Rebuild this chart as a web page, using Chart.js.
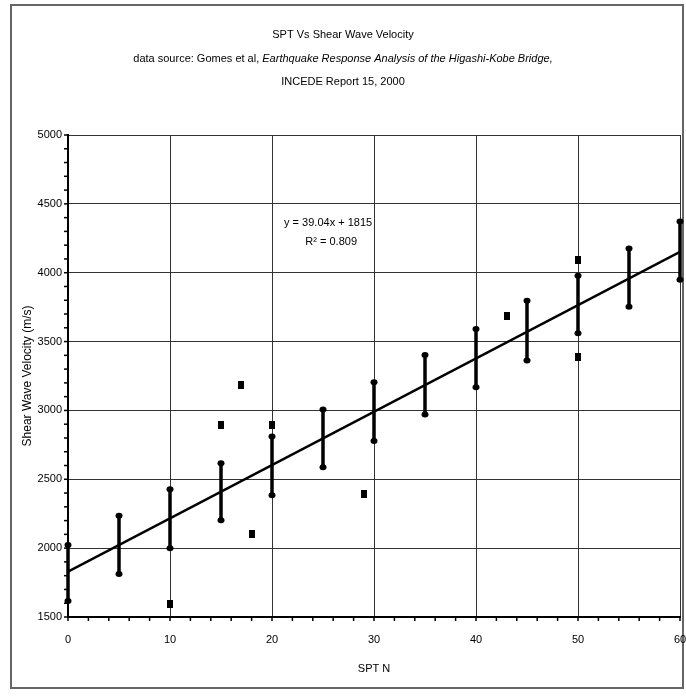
<!DOCTYPE html>
<html><head><meta charset="utf-8">
<script src="https://cdn.jsdelivr.net/npm/chart.js@4/dist/chart.umd.min.js"></script>
<style>html,body{margin:0;padding:0;background:#fff}#wrap{width:686px;height:696px}</style>
</head><body><div id="wrap"><canvas id="c" width="686" height="696"></canvas></div>
<script>
// ---- data ----
const titleLine1 = 'SPT Vs Shear Wave Velocity';
const titleLine2a = 'data source: Gomes et al, ';
const titleLine2b = 'Earthquake Response Analysis of the Higashi-Kobe Bridge,';
const titleLine3 = 'INCEDE Report 15, 2000';
const xAxisTitle = 'SPT N';
const yAxisTitle = 'Shear Wave Velocity (m/s)';
const equationLines = ['y = 39.04x + 1815', 'R\u00B2 = 0.809'];

const barX    = [0, 5, 10, 15, 20, 25, 30, 35, 40, 45, 50, 55, 60];
const barLow  = [1616, 1812, 2000, 2203, 2384, 2587, 2778, 2971, 3169, 3362, 3560, 3753, 3949];
const barHigh = [2022, 2235, 2428, 2616, 2811, 3007, 3205, 3403, 3592, 3797, 3978, 4176, 4372];

const pointX = [10, 15, 17, 18, 20, 29, 43, 50, 50];
const pointY = [1594, 2891, 3188, 2100, 2891, 2391, 3688, 4092, 3391];

const trendX = [0, 60];
const trendY = [1830, 4152];

const xTickValues = [0, 10, 20, 30, 40, 50, 60];
const yTickValues = [1500, 2000, 2500, 3000, 3500, 4000, 4500, 5000];

// ---- chart ----
const FONT = "'Liberation Sans Narrow', 'Arial Narrow', 'Liberation Sans', Arial, sans-serif";

const sq = document.createElement('canvas');
sq.width = 6; sq.height = 8;
(function(){ const g = sq.getContext('2d'); g.fillStyle = '#000'; g.fillRect(0,0,6,8); })();

const decor = {
  id: 'decor',
  beforeDraw(chart) {
    const ctx = chart.ctx;
    ctx.save();
    ctx.fillStyle = '#fff';
    ctx.fillRect(0, 0, chart.width, chart.height);
    ctx.strokeStyle = '#666';
    ctx.lineWidth = 2;
    ctx.strokeRect(11, 5, 672, 683);
    ctx.restore();
  },
  afterDatasetsDraw(chart) {
    const ctx = chart.ctx;
    const xs = chart.scales.x, ys = chart.scales.y;
    const area = chart.chartArea;
    ctx.save();
    // error bars
    ctx.strokeStyle = '#000';
    ctx.lineWidth = 3.5;
    ctx.lineCap = 'butt';
    for (let i = 0; i < barX.length; i++) {
      const px = xs.getPixelForValue(barX[i]);
      ctx.beginPath();
      ctx.moveTo(px, ys.getPixelForValue(barLow[i]));
      ctx.lineTo(px, ys.getPixelForValue(barHigh[i]));
      ctx.stroke();
      ctx.fillStyle = '#000';
      for (const v of [barLow[i], barHigh[i]]) {
        const py = ys.getPixelForValue(v);
        ctx.beginPath();
        ctx.ellipse(px, py, 3.5, 3, 0, 0, Math.PI * 2);
        ctx.fill();
      }
    }
    // minor ticks
    ctx.lineWidth = 1.5;
    for (let v = yTickValues[0]; v <= yTickValues[yTickValues.length - 1]; v += 100) {
      const py = ys.getPixelForValue(v);
      ctx.beginPath(); ctx.moveTo(area.left - 4, py); ctx.lineTo(area.left, py); ctx.stroke();
    }
    for (let v = xTickValues[0]; v <= xTickValues[xTickValues.length - 1]; v += 2) {
      const px = xs.getPixelForValue(v);
      ctx.beginPath(); ctx.moveTo(px, area.bottom); ctx.lineTo(px, area.bottom + 4); ctx.stroke();
    }
    // equation
    ctx.fillStyle = '#000';
    ctx.font = '11px ' + FONT;
    ctx.textAlign = 'center';
    ctx.textBaseline = 'middle';
    ctx.fillText(equationLines[0], xs.getPixelForValue(25.5), ys.getPixelForValue(4362));
    ctx.fillText(equationLines[1], xs.getPixelForValue(25.8), ys.getPixelForValue(4224));
    ctx.restore();
  },
  afterDraw(chart) {
    const ctx = chart.ctx;
    ctx.save();
    ctx.fillStyle = '#000';
    ctx.textBaseline = 'middle';
    ctx.textAlign = 'center';
    const cx = 343;
    ctx.font = '11px ' + FONT;
    ctx.fillText(titleLine1, cx, 35);
    ctx.fillText(titleLine3, cx, 82);
    ctx.font = '11px ' + FONT;
    const wa = ctx.measureText(titleLine2a).width;
    ctx.font = 'italic 11px ' + FONT;
    const wb = ctx.measureText(titleLine2b).width;
    const start = cx - (wa + wb) / 2;
    ctx.textAlign = 'left';
    ctx.font = '11px ' + FONT;
    ctx.fillText(titleLine2a, start, 59);
    ctx.font = 'italic 11px ' + FONT;
    ctx.fillText(titleLine2b, start + wa, 59);
    ctx.restore();
  }
};

new Chart(document.getElementById('c'), {
  type: 'scatter',
  data: {
    datasets: [
      {
        type: 'line',
        label: 'trend',
        data: trendX.map((x, i) => ({x, y: trendY[i]})),
        borderColor: '#000',
        borderWidth: 2.5,
        pointRadius: 0,
        fill: false,
        order: 2
      },
      {
        label: 'points',
        data: pointX.map((x, i) => ({x, y: pointY[i]})),
        pointStyle: sq,
        backgroundColor: '#000',
        borderColor: '#000',
        order: 1
      }
    ]
  },
  options: {
    responsive: false,
    devicePixelRatio: 1,
    animation: false,
    layout: { padding: { left: 12, top: 135, right: 6, bottom: 8 } },
    plugins: { legend: { display: false }, title: { display: false }, tooltip: { enabled: false } },
    scales: {
      x: {
        type: 'linear', min: 0, max: 60,
        afterBuildTicks(s) { s.ticks = xTickValues.map(v => ({value: v})); },
        afterFit(s) { s.height = 71; s.paddingLeft = 0; s.paddingRight = 0; },
        grid: { color: '#333', lineWidth: 1, tickLength: 0 },
        border: { color: '#000', width: 2 },
        ticks: { color: '#000', font: { family: FONT, size: 11 }, padding: 16, maxRotation: 0, callback: v => String(v) },
        title: { display: true, text: xAxisTitle, color: '#000', font: { family: FONT, size: 11 }, padding: { top: 0, bottom: 12 } }
      },
      y: {
        type: 'linear', min: 1500, max: 5000,
        afterBuildTicks(s) { s.ticks = yTickValues.map(v => ({value: v})); },
        afterFit(s) { s.width = 56; s.paddingTop = 0; s.paddingBottom = 0; },
        grid: { color: '#333', lineWidth: 1, tickLength: 0 },
        border: { color: '#000', width: 2 },
        ticks: { color: '#000', font: { family: FONT, size: 11 }, padding: 6, callback: v => String(v) },
        title: { display: true, text: yAxisTitle, color: '#000', font: { family: FONT, size: 12 }, padding: { top: 8, bottom: 0 } }
      }
    }
  },
  plugins: [decor]
});
</script>
</body></html>
